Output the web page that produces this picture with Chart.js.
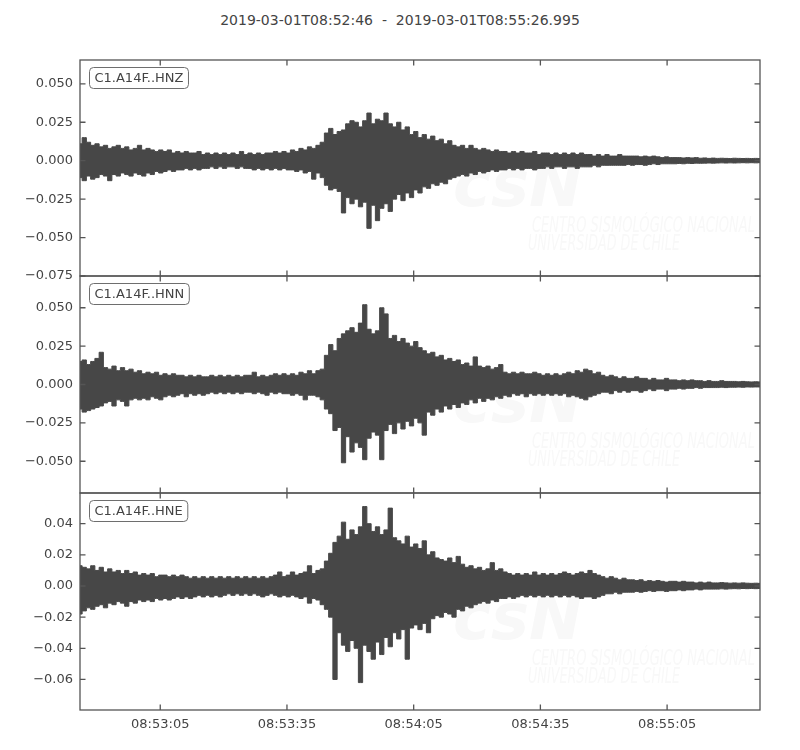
<!DOCTYPE html>
<html>
<head>
<meta charset="utf-8">
<script src="https://cdn.jsdelivr.net/npm/chart.js@4.4.1/dist/chart.umd.min.js"></script>
<style>
    body { margin: 0; background: #fff; width: 800px; height: 750px; position: relative; overflow: hidden; font-family: "DejaVu Sans", sans-serif; }
    #title { position: absolute; top: 12px; left: 0; width: 800px; text-align: center; font-size: 14px; line-height: 17px; color: #444; white-space: pre; }
    canvas { position: absolute; left: 0; }
</style>
</head>
<body>
<div id="title"></div>
<canvas id="panelZ" width="800" height="248" style="top:44px"></canvas>
<canvas id="panelN" width="800" height="249" style="top:260px"></canvas>
<canvas id="panelE" width="800" height="273" style="top:477px"></canvas>
<script>
// Trace window
const START_LABEL = '2019-03-01T08:52:46';
const END_LABEL = '2019-03-01T08:55:26.995';
const TRACE_SECONDS = 160.995;

const STATIONS = ['C1.A14F..HNZ', 'C1.A14F..HNN', 'C1.A14F..HNE'];

// Time axis (seconds after start)
const X_TICK_SECONDS = [19, 49, 79, 109, 139];
const X_TICK_LABELS = ['08:53:05', '08:53:35', '08:54:05', '08:54:35', '08:55:05'];

// Amplitude axes
const Z_TICKS = [-0.075, -0.05, -0.025, 0, 0.025, 0.05];
const N_TICKS = [-0.05, -0.025, 0, 0.025, 0.05];
const E_TICKS = [-0.06, -0.04, -0.02, 0, 0.02, 0.04];
const Z_LIMITS = [-0.075, 0.0655];
const N_LIMITS = [-0.0707, 0.0707];
const E_LIMITS = [-0.0796, 0.0597];

// Envelope of each trace, one max / min per second
const Z_UP = [
    0.011, 0.015, 0.012, 0.010, 0.011, 0.009, 0.010, 0.008, 0.009, 0.010,
    0.008, 0.009, 0.007, 0.008, 0.010, 0.007, 0.008, 0.007, 0.006, 0.007,
    0.006, 0.007, 0.005, 0.006, 0.005, 0.006, 0.005, 0.005, 0.006, 0.004,
    0.005, 0.004, 0.005, 0.004, 0.005, 0.004, 0.005, 0.004, 0.006, 0.004,
    0.005, 0.004, 0.005, 0.004, 0.005, 0.005, 0.006, 0.005, 0.006, 0.005,
    0.007, 0.006, 0.008, 0.007, 0.009, 0.008, 0.010, 0.012, 0.018, 0.021,
    0.017, 0.019, 0.020, 0.024, 0.026, 0.025, 0.022, 0.026, 0.031, 0.024,
    0.027, 0.026, 0.031, 0.024, 0.022, 0.025, 0.020, 0.022, 0.017, 0.019,
    0.015, 0.017, 0.014, 0.016, 0.013, 0.014, 0.011, 0.013, 0.010, 0.009,
    0.010, 0.008, 0.010, 0.008, 0.007, 0.008, 0.007, 0.006, 0.007, 0.006,
    0.006, 0.005, 0.006, 0.005, 0.006, 0.005, 0.005, 0.006, 0.004, 0.005,
    0.005, 0.004, 0.005, 0.004, 0.005, 0.004, 0.005, 0.004, 0.005, 0.004,
    0.004, 0.003, 0.004, 0.003, 0.004, 0.003, 0.003, 0.004, 0.003, 0.003,
    0.003, 0.003, 0.0025, 0.003, 0.0025, 0.003, 0.0025, 0.002, 0.0025, 0.002,
    0.002, 0.002, 0.0018, 0.002, 0.0018, 0.002, 0.0016, 0.0018, 0.0015, 0.0017,
    0.0015, 0.0016, 0.0015, 0.0014, 0.0016, 0.0015, 0.0014, 0.0015, 0.0014, 0.0015, 0.0014
];
const Z_LO = [
    -0.011, -0.013, -0.010, -0.012, -0.011, -0.009, -0.010, -0.013, -0.009, -0.010,
    -0.008, -0.009, -0.010, -0.008, -0.009, -0.010, -0.008, -0.009, -0.007, -0.008,
    -0.007, -0.006, -0.007, -0.006, -0.006, -0.005, -0.006, -0.005, -0.006, -0.005,
    -0.005, -0.004, -0.005, -0.004, -0.005, -0.004, -0.004, -0.005, -0.004, -0.005,
    -0.005, -0.006, -0.005, -0.006, -0.005, -0.006, -0.005, -0.006, -0.005, -0.006,
    -0.006, -0.007, -0.006, -0.008, -0.007, -0.012, -0.008, -0.011, -0.016, -0.019,
    -0.018, -0.020, -0.034, -0.024, -0.028, -0.025, -0.030, -0.027, -0.044, -0.029,
    -0.039, -0.031, -0.028, -0.033, -0.025, -0.022, -0.026, -0.021, -0.024, -0.019,
    -0.021, -0.017, -0.018, -0.015, -0.016, -0.014, -0.015, -0.012, -0.011, -0.010,
    -0.009, -0.010, -0.008, -0.009, -0.007, -0.008, -0.007, -0.006, -0.007, -0.006,
    -0.006, -0.005, -0.006, -0.005, -0.006, -0.005, -0.005, -0.006, -0.005, -0.005,
    -0.004, -0.005, -0.004, -0.004, -0.005, -0.004, -0.004, -0.005, -0.004, -0.004,
    -0.004, -0.003, -0.004, -0.003, -0.003, -0.003, -0.003, -0.003, -0.003, -0.0025,
    -0.003, -0.0025, -0.0025, -0.003, -0.0025, -0.002, -0.0025, -0.002, -0.002, -0.002,
    -0.002, -0.0018, -0.002, -0.0017, -0.0018, -0.0016, -0.0017, -0.0016, -0.0015, -0.0016,
    -0.0015, -0.0014, -0.0015, -0.0014, -0.0015, -0.0014, -0.0013, -0.0014, -0.0013, -0.0014, -0.0013
];
const N_UP = [
    0.015, 0.016, 0.013, 0.015, 0.017, 0.021, 0.011, 0.010, 0.012, 0.009,
    0.011, 0.009, 0.010, 0.008, 0.009, 0.007, 0.008, 0.007, 0.008, 0.006,
    0.007, 0.006, 0.007, 0.006, 0.006, 0.005, 0.006, 0.005, 0.006, 0.005,
    0.005, 0.006, 0.005, 0.006, 0.005, 0.006, 0.005, 0.006, 0.005, 0.006,
    0.006, 0.008, 0.005, 0.006, 0.005, 0.006, 0.007, 0.006, 0.007, 0.006,
    0.007, 0.006, 0.008, 0.007, 0.009, 0.007, 0.009, 0.010, 0.019, 0.026,
    0.022, 0.030, 0.033, 0.035, 0.037, 0.034, 0.040, 0.052, 0.036, 0.033,
    0.035, 0.050, 0.046, 0.030, 0.032, 0.028, 0.030, 0.027, 0.025, 0.028,
    0.024, 0.022, 0.020, 0.021, 0.018, 0.019, 0.016, 0.017, 0.015, 0.016,
    0.013, 0.014, 0.012, 0.018, 0.012, 0.011, 0.012, 0.010, 0.011, 0.013,
    0.008, 0.007, 0.008, 0.007, 0.008, 0.007, 0.007, 0.008, 0.007, 0.006,
    0.007, 0.006, 0.007, 0.006, 0.007, 0.008, 0.007, 0.009, 0.008, 0.010,
    0.009, 0.007, 0.008, 0.006, 0.005, 0.006, 0.005, 0.004, 0.005, 0.004,
    0.004, 0.005, 0.004, 0.004, 0.003, 0.004, 0.003, 0.003, 0.004, 0.003,
    0.003, 0.0025, 0.003, 0.0025, 0.003, 0.0025, 0.0025, 0.002, 0.0025, 0.002,
    0.002, 0.0025, 0.002, 0.002, 0.002, 0.0018, 0.002, 0.0018, 0.0017, 0.0018, 0.0017
];
const N_LO = [
    -0.016, -0.018, -0.017, -0.016, -0.015, -0.014, -0.012, -0.011, -0.014, -0.010,
    -0.011, -0.014, -0.010, -0.009, -0.010, -0.009, -0.010, -0.008, -0.009, -0.010,
    -0.008, -0.007, -0.008, -0.007, -0.006, -0.008, -0.006, -0.007, -0.006, -0.007,
    -0.006, -0.005, -0.006, -0.005, -0.006, -0.005, -0.006, -0.005, -0.006, -0.005,
    -0.005, -0.006, -0.005, -0.006, -0.007, -0.005, -0.006, -0.005, -0.006, -0.006,
    -0.007, -0.006, -0.007, -0.010, -0.007, -0.007, -0.008, -0.010, -0.016, -0.019,
    -0.030, -0.028, -0.051, -0.034, -0.044, -0.038, -0.041, -0.049, -0.035, -0.031,
    -0.033, -0.049, -0.030, -0.026, -0.032, -0.025, -0.029, -0.024, -0.027, -0.022,
    -0.025, -0.033, -0.018, -0.020, -0.016, -0.018, -0.014, -0.016, -0.013, -0.015,
    -0.012, -0.013, -0.010, -0.012, -0.009, -0.011, -0.009, -0.010, -0.008, -0.009,
    -0.007, -0.008, -0.006, -0.007, -0.006, -0.008, -0.006, -0.007, -0.006, -0.007,
    -0.006, -0.007, -0.006, -0.007, -0.006, -0.008, -0.007, -0.008, -0.009, -0.010,
    -0.008, -0.007, -0.006, -0.005, -0.005, -0.006, -0.004, -0.005, -0.004, -0.005,
    -0.004, -0.004, -0.005, -0.004, -0.003, -0.004, -0.003, -0.003, -0.004, -0.003,
    -0.003, -0.0025, -0.003, -0.0025, -0.0025, -0.002, -0.0025, -0.002, -0.002, -0.002,
    -0.002, -0.0018, -0.002, -0.0018, -0.0018, -0.0017, -0.0018, -0.0016, -0.0017, -0.0016, -0.0016
];
const E_UP = [
    0.013, 0.012, 0.011, 0.013, 0.010, 0.012, 0.009, 0.011, 0.009, 0.010,
    0.008, 0.010, 0.008, 0.009, 0.007, 0.008, 0.007, 0.008, 0.006, 0.007,
    0.007, 0.006, 0.007, 0.006, 0.007, 0.006, 0.005, 0.006, 0.005, 0.006,
    0.005, 0.006, 0.005, 0.006, 0.005, 0.006, 0.005, 0.006, 0.005, 0.006,
    0.005, 0.006, 0.005, 0.006, 0.005, 0.006, 0.007, 0.009, 0.006, 0.007,
    0.009, 0.007, 0.008, 0.009, 0.013, 0.008, 0.010, 0.011, 0.016, 0.021,
    0.028, 0.032, 0.041, 0.030, 0.036, 0.033, 0.038, 0.051, 0.040, 0.035,
    0.038, 0.033, 0.036, 0.050, 0.031, 0.029, 0.027, 0.032, 0.025, 0.027,
    0.024, 0.029, 0.020, 0.022, 0.018, 0.017, 0.016, 0.018, 0.015, 0.019,
    0.014, 0.012, 0.013, 0.011, 0.012, 0.010, 0.011, 0.015, 0.010, 0.011,
    0.009, 0.008, 0.007, 0.008, 0.007, 0.008, 0.007, 0.009, 0.007, 0.008,
    0.007, 0.008, 0.007, 0.008, 0.009, 0.008, 0.007, 0.008, 0.009, 0.008,
    0.010, 0.008, 0.007, 0.006, 0.005, 0.006, 0.005, 0.004, 0.005, 0.004,
    0.004, 0.0035, 0.004, 0.003, 0.0035, 0.003, 0.0035, 0.003, 0.0025, 0.003,
    0.003, 0.0025, 0.003, 0.0025, 0.0025, 0.002, 0.0025, 0.002, 0.0025, 0.002,
    0.002, 0.0022, 0.002, 0.0018, 0.002, 0.0018, 0.002, 0.0018, 0.0017, 0.0018, 0.0017
];
const E_LO = [
    -0.018, -0.016, -0.014, -0.015, -0.013, -0.012, -0.014, -0.011, -0.012, -0.010,
    -0.011, -0.013, -0.010, -0.011, -0.009, -0.010, -0.009, -0.010, -0.008, -0.009,
    -0.008, -0.009, -0.008, -0.007, -0.008, -0.007, -0.008, -0.007, -0.006, -0.007,
    -0.006, -0.007, -0.006, -0.007, -0.006, -0.005, -0.006, -0.005, -0.006, -0.005,
    -0.006, -0.005, -0.006, -0.007, -0.006, -0.005, -0.006, -0.007, -0.006, -0.007,
    -0.006, -0.007, -0.008, -0.007, -0.011, -0.008, -0.009, -0.012, -0.015, -0.020,
    -0.060, -0.030, -0.038, -0.042, -0.035, -0.040, -0.062, -0.038, -0.042, -0.047,
    -0.036, -0.044, -0.033, -0.039, -0.030, -0.034, -0.028, -0.047, -0.027, -0.025,
    -0.028, -0.024, -0.030, -0.021, -0.019, -0.020, -0.017, -0.018, -0.020, -0.015,
    -0.016, -0.013, -0.014, -0.012, -0.011, -0.010, -0.011, -0.009, -0.010, -0.008,
    -0.008, -0.007, -0.008, -0.007, -0.006, -0.007, -0.006, -0.007, -0.006, -0.007,
    -0.006, -0.007, -0.006, -0.007, -0.006, -0.007, -0.006, -0.007, -0.008, -0.007,
    -0.007, -0.008, -0.007, -0.006, -0.005, -0.005, -0.004, -0.005, -0.004, -0.004,
    -0.004, -0.0035, -0.004, -0.0035, -0.003, -0.0035, -0.003, -0.003, -0.0035, -0.003,
    -0.003, -0.0025, -0.003, -0.0025, -0.0025, -0.002, -0.0025, -0.002, -0.002, -0.002,
    -0.002, -0.0018, -0.002, -0.0018, -0.0017, -0.0018, -0.0016, -0.0017, -0.0016, -0.0017, -0.0016
];

const TRACE_COLOR = '#474747';
const TEXT_COLOR = '#444444';
const FRAME_COLOR = '#555555';
const WATERMARK_COLOR = '#f8f8f8';

document.getElementById('title').textContent = START_LABEL + '  -  ' + END_LABEL;

function formatAmp(v, decimals) {
    if (Math.abs(v) < 1e-12) return (0).toFixed(decimals);
    return (v < 0 ? '\u2212' : '') + Math.abs(v).toFixed(decimals);
}

// frame with inward ticks, station label and the faint CSN watermark
const framePlugin = {
    id: 'frame',
    beforeDatasetsDraw(chart) {
        const ctx = chart.ctx;
        const a = chart.chartArea;
        ctx.save();
        ctx.fillStyle = WATERMARK_COLOR;
        ctx.textBaseline = 'alphabetic';
        ctx.font = 'italic bold 64px "DejaVu Sans"';
        ctx.fillText('csN', a.left + 373, a.top + 146);
        ctx.font = 'italic 21px "DejaVu Sans"';
        const lines = [['CENTRO SISMOLÓGICO NACIONAL', 452, 172, 223], ['UNIVERSIDAD DE CHILE', 448, 190, 152]];
        lines.forEach(([txt, dx, dy, w]) => {
            const tw = ctx.measureText(txt).width;
            ctx.save();
            ctx.translate(a.left + dx, a.top + dy);
            ctx.scale(w / tw, 1);
            ctx.fillText(txt, 0, 0);
            ctx.restore();
        });
        ctx.restore();
    },
    afterDraw(chart, args, opts) {
        const ctx = chart.ctx;
        const a = chart.chartArea;
        const xs = chart.scales.x;
        const ys = chart.scales.y;
        const tl = 5.5;
        ctx.save();
        ctx.strokeStyle = FRAME_COLOR;
        ctx.lineWidth = 1.3;
        ctx.strokeRect(a.left, a.top, a.right - a.left, a.bottom - a.top);
        ctx.beginPath();
        opts.yTicks.forEach(v => {
            const y = ys.getPixelForValue(v);
            ctx.moveTo(a.left, y); ctx.lineTo(a.left + tl, y);
            ctx.moveTo(a.right, y); ctx.lineTo(a.right - tl, y);
        });
        X_TICK_SECONDS.forEach(s => {
            const x = xs.getPixelForValue(s);
            ctx.moveTo(x, a.top); ctx.lineTo(x, a.top + tl);
            ctx.moveTo(x, a.bottom); ctx.lineTo(x, a.bottom - tl);
        });
        ctx.stroke();

        // station label box
        ctx.font = '13px "DejaVu Sans"';
        const w = ctx.measureText(opts.station).width + 10;
        const bx = a.left + 9.5, by = a.top + 7.5, bh = 21;
        ctx.beginPath();
        ctx.roundRect(bx, by, w, bh, 4);
        ctx.fillStyle = '#ffffff';
        ctx.fill();
        ctx.strokeStyle = '#6e6e6e';
        ctx.lineWidth = 1;
        ctx.stroke();
        ctx.fillStyle = TEXT_COLOR;
        ctx.textBaseline = 'middle';
        ctx.textAlign = 'left';
        ctx.fillText(opts.station, bx + 5, by + bh / 2 + 0.5);
        ctx.restore();
    }
};

function makePanel(canvasId, station, up, lo, yTicks, limits, decimals, showTime) {
    const step = TRACE_SECONDS / (up.length - 1);
    const upper = up.map((v, i) => ({ x: i * step, y: v }));
    const lower = lo.map((v, i) => ({ x: i * step, y: v }));

    return new Chart(document.getElementById(canvasId), {
        type: 'line',
        data: {
            datasets: [
                {
                    data: upper,
                    borderColor: TRACE_COLOR,
                    backgroundColor: TRACE_COLOR,
                    borderWidth: 1,
                    pointRadius: 0,
                    stepped: 'middle',
                    fill: '+1'
                },
                {
                    data: lower,
                    borderColor: TRACE_COLOR,
                    backgroundColor: TRACE_COLOR,
                    borderWidth: 1,
                    pointRadius: 0,
                    stepped: 'middle',
                    fill: false
                }
            ]
        },
        plugins: [framePlugin],
        options: {
            responsive: false,
            animation: false,
            devicePixelRatio: 1,
            layout: { padding: { top: 16, bottom: showTime ? 0 : 16, left: 0, right: 40 } },
            plugins: {
                legend: { display: false },
                tooltip: { enabled: false },
                frame: { yTicks: yTicks, station: station }
            },
            scales: {
                x: {
                    type: 'linear',
                    display: showTime,
                    min: 0,
                    max: TRACE_SECONDS,
                    afterBuildTicks: s => { s.ticks = X_TICK_SECONDS.map(v => ({ value: v })); },
                    afterFit: s => { s.height = showTime ? 40 : 0; },
                    grid: { display: false, drawTicks: false },
                    border: { display: false },
                    ticks: {
                        autoSkip: false,
                        maxRotation: 0,
                        padding: 7,
                        color: TEXT_COLOR,
                        font: { family: 'DejaVu Sans', size: 13 },
                        callback: (v, i) => X_TICK_LABELS[i]
                    }
                },
                y: {
                    type: 'linear',
                    min: limits[0],
                    max: limits[1],
                    afterBuildTicks: s => { s.ticks = yTicks.map(v => ({ value: v })); },
                    afterFit: s => { s.width = 80; },
                    grid: { display: false, drawTicks: false },
                    border: { display: false },
                    ticks: {
                        autoSkip: false,
                        padding: 7,
                        color: TEXT_COLOR,
                        font: { family: 'DejaVu Sans', size: 13 },
                        callback: v => formatAmp(v, decimals)
                    }
                }
            }
        }
    });
}

makePanel('panelZ', STATIONS[0], Z_UP, Z_LO, Z_TICKS, Z_LIMITS, 3, false);
makePanel('panelN', STATIONS[1], N_UP, N_LO, N_TICKS, N_LIMITS, 3, false);
makePanel('panelE', STATIONS[2], E_UP, E_LO, E_TICKS, E_LIMITS, 2, true);
</script>
</body>
</html>
